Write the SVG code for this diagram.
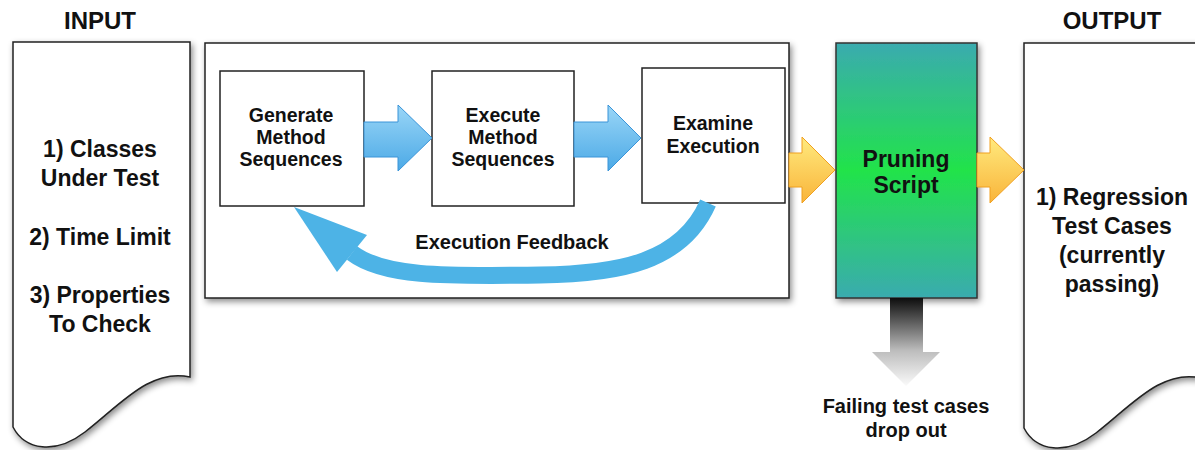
<svg xmlns="http://www.w3.org/2000/svg" width="1195" height="450" viewBox="0 0 1195 450">
<defs>
<filter id="sh" x="-20%" y="-20%" width="140%" height="140%"><feDropShadow dx="2" dy="3" stdDeviation="3" flood-color="#000" flood-opacity="0.45"/></filter>
<linearGradient id="blue" x1="0" y1="0" x2="0" y2="1"><stop offset="0" stop-color="#9ad6f7"/><stop offset="1" stop-color="#4ba9e6"/></linearGradient>
<linearGradient id="yel" x1="0" y1="0" x2="0" y2="1"><stop offset="0" stop-color="#ffea7e"/><stop offset="1" stop-color="#f9b43a"/></linearGradient>
<linearGradient id="prune" x1="0" y1="0" x2="0" y2="1"><stop offset="0" stop-color="#3aabaf"/><stop offset="0.5" stop-color="#22e34a"/><stop offset="1" stop-color="#3aabaf"/></linearGradient>
<linearGradient id="gray" gradientUnits="userSpaceOnUse" x1="0" y1="298" x2="0" y2="386"><stop offset="0" stop-color="#0d0d0d"/><stop offset="0.6" stop-color="#bdbdbd"/><stop offset="1" stop-color="#fafafa"/></linearGradient>
<style>
.t{font-family:"Liberation Sans",Arial,sans-serif;font-weight:bold;fill:#111;text-anchor:middle}
.box{fill:#fff;stroke:#222;stroke-width:1.5}
.doc{fill:#fff;stroke:#222;stroke-width:1.5}
.ba{fill:url(#blue);stroke:#3a94d8;stroke-width:1}
.ya{fill:url(#yel);stroke:#f0a020;stroke-width:1}
</style>
</defs>
<rect width="1195" height="450" fill="#fff"/>
<text class="t" x="100" y="29" font-size="24">INPUT</text>
<text class="t" x="1112" y="29" font-size="24">OUTPUT</text>

<g id="input">
<path class="doc" filter="url(#sh)" d="M13,42 H190 V377 C150,368 120,405 85,432 C55,455 25,450 13,427 Z"/>
<text class="t" font-size="23" x="100" y="157">1) Classes</text>
<text class="t" font-size="23" x="100" y="186">Under Test</text>
<text class="t" font-size="23" x="100" y="245">2) Time Limit</text>
<text class="t" font-size="23" x="100" y="303">3) Properties</text>
<text class="t" font-size="23" x="100" y="332">To Check</text>
</g>

<g id="main">
<rect class="box" filter="url(#sh)" x="205" y="43" width="584" height="255"/>
</g>

<g id="generate">
<rect class="box" x="220" y="71" width="144" height="135"/>
<text class="t" font-size="19.5" x="291" y="122">Generate</text>
<text class="t" font-size="19.5" x="291" y="144">Method</text>
<text class="t" font-size="19.5" x="291" y="166">Sequences</text>
</g>
<g id="execute">
<rect class="box" x="432" y="71" width="142" height="135"/>
<text class="t" font-size="19.5" x="503" y="122">Execute</text>
<text class="t" font-size="19.5" x="503" y="144">Method</text>
<text class="t" font-size="19.5" x="503" y="166">Sequences</text>
</g>
<g id="examine">
<rect class="box" x="642" y="68" width="143" height="135"/>
<text class="t" font-size="19.5" x="713" y="130">Examine</text>
<text class="t" font-size="19.5" x="713" y="153">Execution</text>
</g>

<g id="pruning">
<rect x="836" y="43" width="141" height="255" fill="url(#prune)" stroke="#333" stroke-width="1.5" filter="url(#sh)"/>
<text class="t" font-size="23" x="906" y="167">Pruning</text>
<text class="t" font-size="23" x="906" y="193">Script</text>
</g>

<g id="output">
<path class="doc" filter="url(#sh)" d="M1024,43 H1201 V378 C1161,369 1131,406 1096,433 C1066,456 1036,451 1024,428 Z"/>
<text class="t" font-size="23" x="1112" y="205">1) Regression</text>
<text class="t" font-size="23" x="1112" y="234">Test Cases</text>
<text class="t" font-size="23" x="1112" y="263">(currently</text>
<text class="t" font-size="23" x="1112" y="292">passing)</text>
</g>

<g id="connectors">
<path class="ba" d="M364,122 H398 V105 L432,138 L398,171 V157 H364 Z"/>
<path class="ba" d="M574,122 H608 V105 L641,138 L608,171 V157 H574 Z"/>
<path d="M708,203 C682,262 620,274 540,275 C450,276 385,278 352,253" fill="none" stroke="#4db3e6" stroke-width="17"/>
<polygon points="294,207 367,235 337,272" fill="#4db3e6"/>
<text class="t" font-size="20" x="512" y="249">Execution Feedback</text>
<path class="ya" d="M789,153 H802 V137 L835,170 L802,203 V187 H789 Z"/>
<path class="ya" d="M977,153 H990 V137 L1024,170 L990,203 V187 H977 Z"/>
<path d="M890,298 V352 H872 L906,386 L940,352 H923 V298 Z" fill="url(#gray)"/>
<text class="t" font-size="20" x="906" y="413">Failing test cases</text>
<text class="t" font-size="20" x="906" y="437">drop out</text>
</g>
</svg>
